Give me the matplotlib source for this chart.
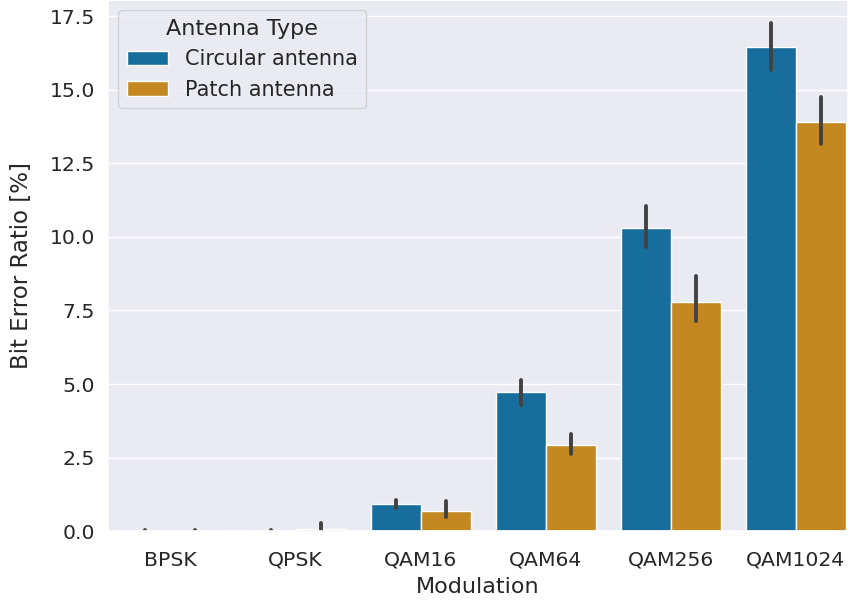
import numpy as np
import matplotlib
matplotlib.use("Agg")
import matplotlib.pyplot as plt
import seaborn as sns

modulations = ["BPSK", "QPSK", "QAM16", "QAM64", "QAM256", "QAM1024"]
antennas = ["Circular antenna", "Patch antenna"]

circular_mean = [0.005, 0.01, 0.92, 4.72, 10.29, 16.44]
circular_lo = [0.0, 0.0, 0.80, 4.30, 9.65, 15.68]
circular_hi = [0.03, 0.04, 1.05, 5.15, 11.04, 17.28]

patch_mean = [0.005, 0.08, 0.68, 2.92, 7.79, 13.91]
patch_lo = [0.0, 0.0, 0.48, 2.62, 7.15, 13.17]
patch_hi = [0.03, 0.27, 1.02, 3.30, 8.67, 14.77]

sns.set_theme(style="darkgrid", palette="colorblind", font_scale=1.33)
pal = sns.color_palette("colorblind")
colors = [sns.desaturate(pal[0], 0.75), sns.desaturate(pal[1], 0.75)]

fig = plt.figure(figsize=(8.5, 6.05), dpi=100)
ax = fig.add_axes([0.127, 0.122, 0.871, 0.878])

x = np.arange(len(modulations))
w = 0.4
series = [(circular_mean, circular_lo, circular_hi), (patch_mean, patch_lo, patch_hi)]
for k, (mean, lo, hi) in enumerate(series):
    pos = x - 0.2 + k * w
    ax.bar(pos, mean, width=w, color=colors[k], edgecolor="white", linewidth=1,
           label=antennas[k])
    for p, l, h in zip(pos, lo, hi):
        ax.plot([p, p], [l, h], color=".26", linewidth=2.8, solid_capstyle="round")

ax.set_xticks(x)
ax.set_xticklabels(modulations)
ax.tick_params(axis="x", pad=8)
ax.set_xlim(-0.5, 5.42)
ax.set_ylim(0, 18.05)
ax.xaxis.grid(False)
ax.set_xlabel("Modulation", fontsize=16, labelpad=5)
ax.set_ylabel("Bit Error Ratio [%]", fontsize=16.5, labelpad=12)
ax.legend(title="Antenna Type", loc="upper left", fontsize=15, title_fontsize=16)

fig.savefig("out.png")
